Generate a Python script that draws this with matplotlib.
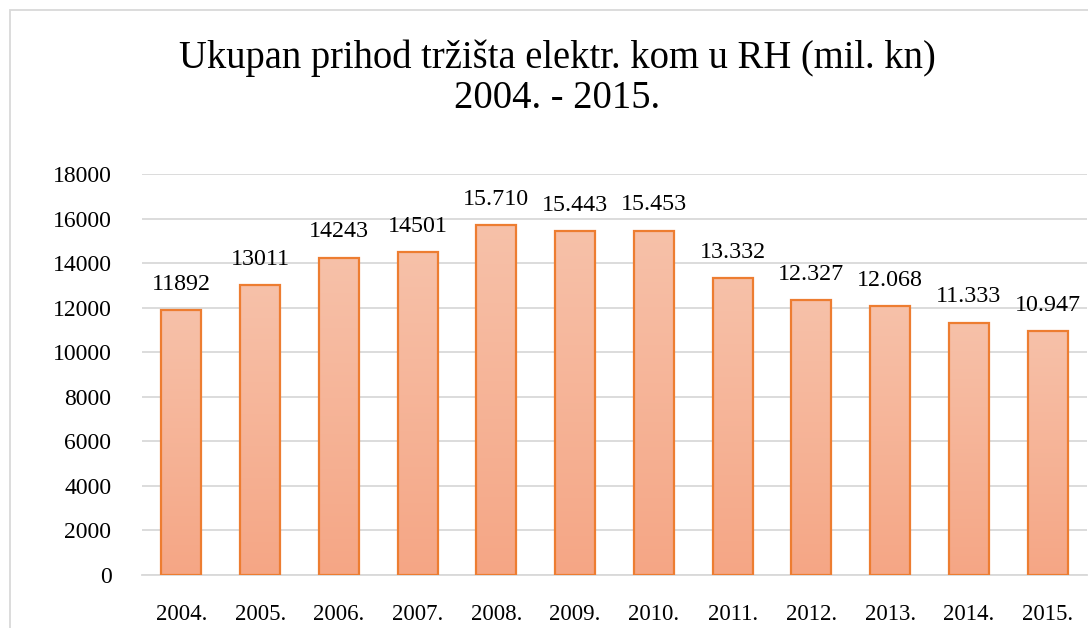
import numpy as np
import matplotlib
matplotlib.use("Agg")
import matplotlib.pyplot as plt
from matplotlib.colors import LinearSegmentedColormap
from matplotlib.patches import Rectangle

years = ["2004.", "2005.", "2006.", "2007.", "2008.", "2009.", "2010.",
         "2011.", "2012.", "2013.", "2014.", "2015."]
values = [11892, 13011, 14243, 14501, 15710, 15443, 15453,
          13332, 12327, 12068, 11333, 10947]
value_labels = ["11892", "13011", "14243", "14501", "15.710", "15.443", "15.453",
                "13.332", "12.327", "12.068", "11.333", "10.947"]
yticks = [0, 2000, 4000, 6000, 8000, 10000, 12000, 14000, 16000, 18000]

plt.rcParams['font.family'] = ['Liberation Serif', 'DejaVu Serif']

fig = plt.figure(figsize=(10.88, 6.28), dpi=100)
fig.patch.set_facecolor('white')

# outer chart border (partially cropped)
fig.add_artist(Rectangle((10/1088, -0.1), 1.2, (628-10)/628 + 0.1,
                         transform=fig.transFigure, fill=False,
                         edgecolor='#D9D9D9', linewidth=1.3))

ax = fig.add_axes([142/1088, 1-575/628, (1087-142)/1088, (575-174)/628])
x = np.arange(len(years))
width = 0.51
cmap = LinearSegmentedColormap.from_list('g', ['#F5A685', '#F7C1A9'])
grad = np.linspace(0, 1, 256).reshape(-1, 1)

bars = ax.bar(x, values, width=width, facecolor='none', edgecolor='#ED7D31',
              linewidth=1.6, zorder=3)
for b in bars:
    x0, w, h = b.get_x(), b.get_width(), b.get_height()
    ax.imshow(grad, cmap=cmap, origin='lower', aspect='auto',
              extent=[x0, x0 + w, 0, h], zorder=2, interpolation='bicubic')

for xi, v, lab in zip(x, values, value_labels):
    ax.annotate(lab, (xi, v), xytext=(0, 11), textcoords='offset points',
                ha='center', va='bottom', fontsize=17.3, color='#000000')

ax.set_xlim(-0.5, len(years) - 0.5)
ax.set_ylim(0, 18000)
ax.set_yticks(yticks)
ax.set_yticklabels([str(t) for t in yticks], fontsize=17)
ax.set_xticks(x)
ax.set_xticklabels(years, fontsize=16.5)
ax.tick_params(axis='both', length=0, colors='#000000')
ax.tick_params(axis='y', pad=22)
ax.tick_params(axis='x', pad=21)
ax.grid(axis='y', color='#D9D9D9', linewidth=1.3, zorder=0)
ax.set_axisbelow(True)
for s in ['top', 'right', 'left']:
    ax.spines[s].set_visible(False)
ax.spines['bottom'].set_color('#D9D9D9')
ax.spines['bottom'].set_linewidth(1.3)

fig.text(557/1088, 1-58/628, "Ukupan prihod tržišta elektr. kom u RH (mil. kn)",
         ha='center', va='center', fontsize=27.8)
fig.text(557/1088, 1-98/628, "2004. - 2015.",
         ha='center', va='center', fontsize=27.8)

fig.savefig("out.png", dpi=100, facecolor='white')
